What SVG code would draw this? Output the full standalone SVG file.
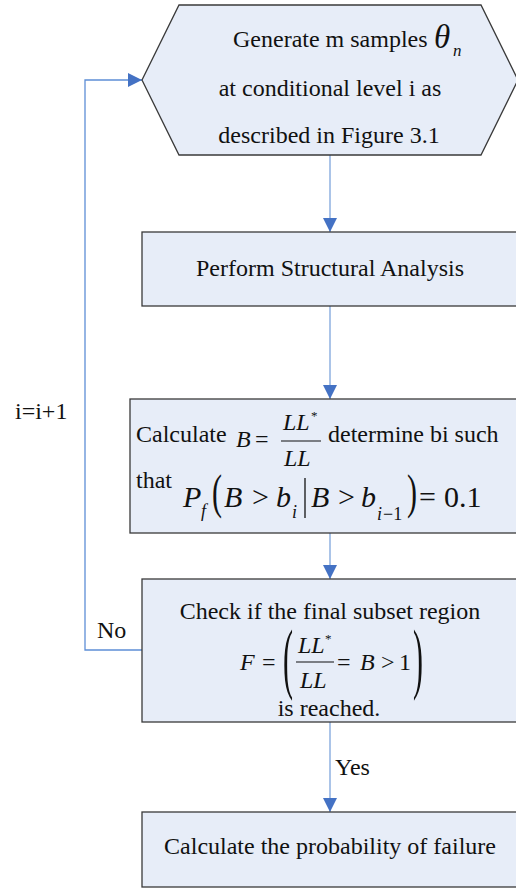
<svg xmlns="http://www.w3.org/2000/svg" width="516" height="888" viewBox="0 0 516 888">
<defs>
<style>
.n{fill:#E7EDF8;stroke:#3a3a3a;stroke-width:1.3}
.t{font-family:"Liberation Serif","Times New Roman",serif;font-size:24px;fill:#111}
.m{font-family:"Liberation Serif","Times New Roman",serif;font-style:italic;fill:#111}
.r{font-family:"Liberation Serif","Times New Roman",serif;fill:#111}
.c{fill:none;stroke:#8FB0E0;stroke-width:1.5}
.l{fill:none;stroke:#5E8ED6;stroke-width:1.3}
</style>
<marker id="ah" markerWidth="14" markerHeight="14" refX="14" refY="7" orient="auto" markerUnits="userSpaceOnUse">
<path d="M0,0 L14,7 L0,14 Z" fill="#4472C4"/>
</marker>
</defs>
<rect width="516" height="888" fill="#fff"/>

<g id="connectors">
<line class="c" x1="330" y1="155" x2="330" y2="232" marker-end="url(#ah)"/>
<line class="c" x1="330" y1="306" x2="330" y2="399" marker-end="url(#ah)"/>
<line class="c" x1="330" y1="533" x2="330" y2="579" marker-end="url(#ah)"/>
<line class="c" x1="330" y1="722" x2="330" y2="812" marker-end="url(#ah)"/>
<polyline class="l" points="142,650 85,650 85,80 142,80" marker-end="url(#ah)"/>
<text class="t" x="15" y="419">i=i+1</text>
<text class="t" x="97" y="638">No</text>
<text class="t" x="335" y="775">Yes</text>
</g>

<g id="generate">
<polygon class="n" points="179,5 481,5 518,80 481,155 179,155 142,80"/>
<text class="t" x="233" y="47">Generate m samples</text>
<text class="m" x="434" y="48" font-size="33">θ</text>
<text class="m" x="453" y="56" font-size="17">n</text>
<text class="t" x="330" y="96" text-anchor="middle">at conditional level i as</text>
<text class="t" x="329" y="143" text-anchor="middle">described in Figure 3.1</text>
</g>

<g id="analysis">
<rect class="n" x="142" y="232" width="380" height="74"/>
<text class="t" x="330" y="276" text-anchor="middle">Perform Structural Analysis</text>
</g>

<g id="calculate-b">
<rect class="n" x="130" y="399" width="400" height="134"/>
<text class="t" x="136" y="442">Calculate</text>
<text class="m" x="236" y="447" font-size="24">B</text>
<text class="r" x="255" y="447" font-size="24">=</text>
<text class="m" x="283" y="430" font-size="24">LL</text>
<text class="r" x="311" y="420" font-size="13">*</text>
<line x1="281" y1="441" x2="321" y2="441" stroke="#111" stroke-width="1.2"/>
<text class="m" x="284" y="466" font-size="24">LL</text>
<text class="t" x="328" y="442">determine bi such</text>
<text class="t" x="136" y="488">that</text>
<text class="m" x="183" y="507" font-size="30">P</text>
<text class="m" x="201" y="517" font-size="18">f</text>
<text class="r" transform="translate(212,508) scale(1,1.65)" font-size="30">(</text>
<text class="m" x="224" y="507" font-size="30">B</text>
<text class="r" x="252" y="507" font-size="30">&gt;</text>
<text class="m" x="276" y="507" font-size="30">b</text>
<text class="m" x="292" y="518" font-size="18">i</text>
<line x1="305" y1="478" x2="305" y2="518" stroke="#111" stroke-width="1.3"/>
<text class="m" x="311" y="507" font-size="30">B</text>
<text class="r" x="338" y="507" font-size="30">&gt;</text>
<text class="m" x="361" y="507" font-size="30">b</text>
<text class="m" x="377" y="520" font-size="18">i</text>
<text class="r" x="383" y="520" font-size="18">−1</text>
<text class="r" transform="translate(407,508) scale(1,1.65)" font-size="30">)</text>
<text class="r" x="419" y="507" font-size="30">=</text>
<text class="r" x="444" y="507" font-size="30">0.1</text>
</g>

<g id="check">
<rect class="n" x="142" y="579" width="380" height="143"/>
<text class="t" x="330" y="619" text-anchor="middle">Check if the final subset region</text>
<text class="m" x="240" y="670" font-size="24">F</text>
<text class="r" x="262" y="670" font-size="24">=</text>
<text class="r" transform="translate(283,684) scale(1,2.6)" font-size="30">(</text>
<text class="m" x="298" y="653" font-size="24">LL</text>
<text class="r" x="325" y="643" font-size="13">*</text>
<line x1="296" y1="662" x2="334" y2="662" stroke="#111" stroke-width="1.2"/>
<text class="m" x="300" y="688" font-size="24">LL</text>
<text class="r" x="337" y="670" font-size="24">=</text>
<text class="m" x="360" y="670" font-size="24">B</text>
<text class="r" x="381" y="670" font-size="24">&gt;</text>
<text class="r" x="399" y="670" font-size="24">1</text>
<text class="r" transform="translate(413,684) scale(1,2.6)" font-size="30">)</text>
<text class="t" x="329" y="716" text-anchor="middle">is reached.</text>
</g>

<g id="probability">
<rect class="n" x="142" y="812" width="380" height="75"/>
<text class="t" x="330" y="854" text-anchor="middle">Calculate the probability of failure</text>
</g>
</svg>
